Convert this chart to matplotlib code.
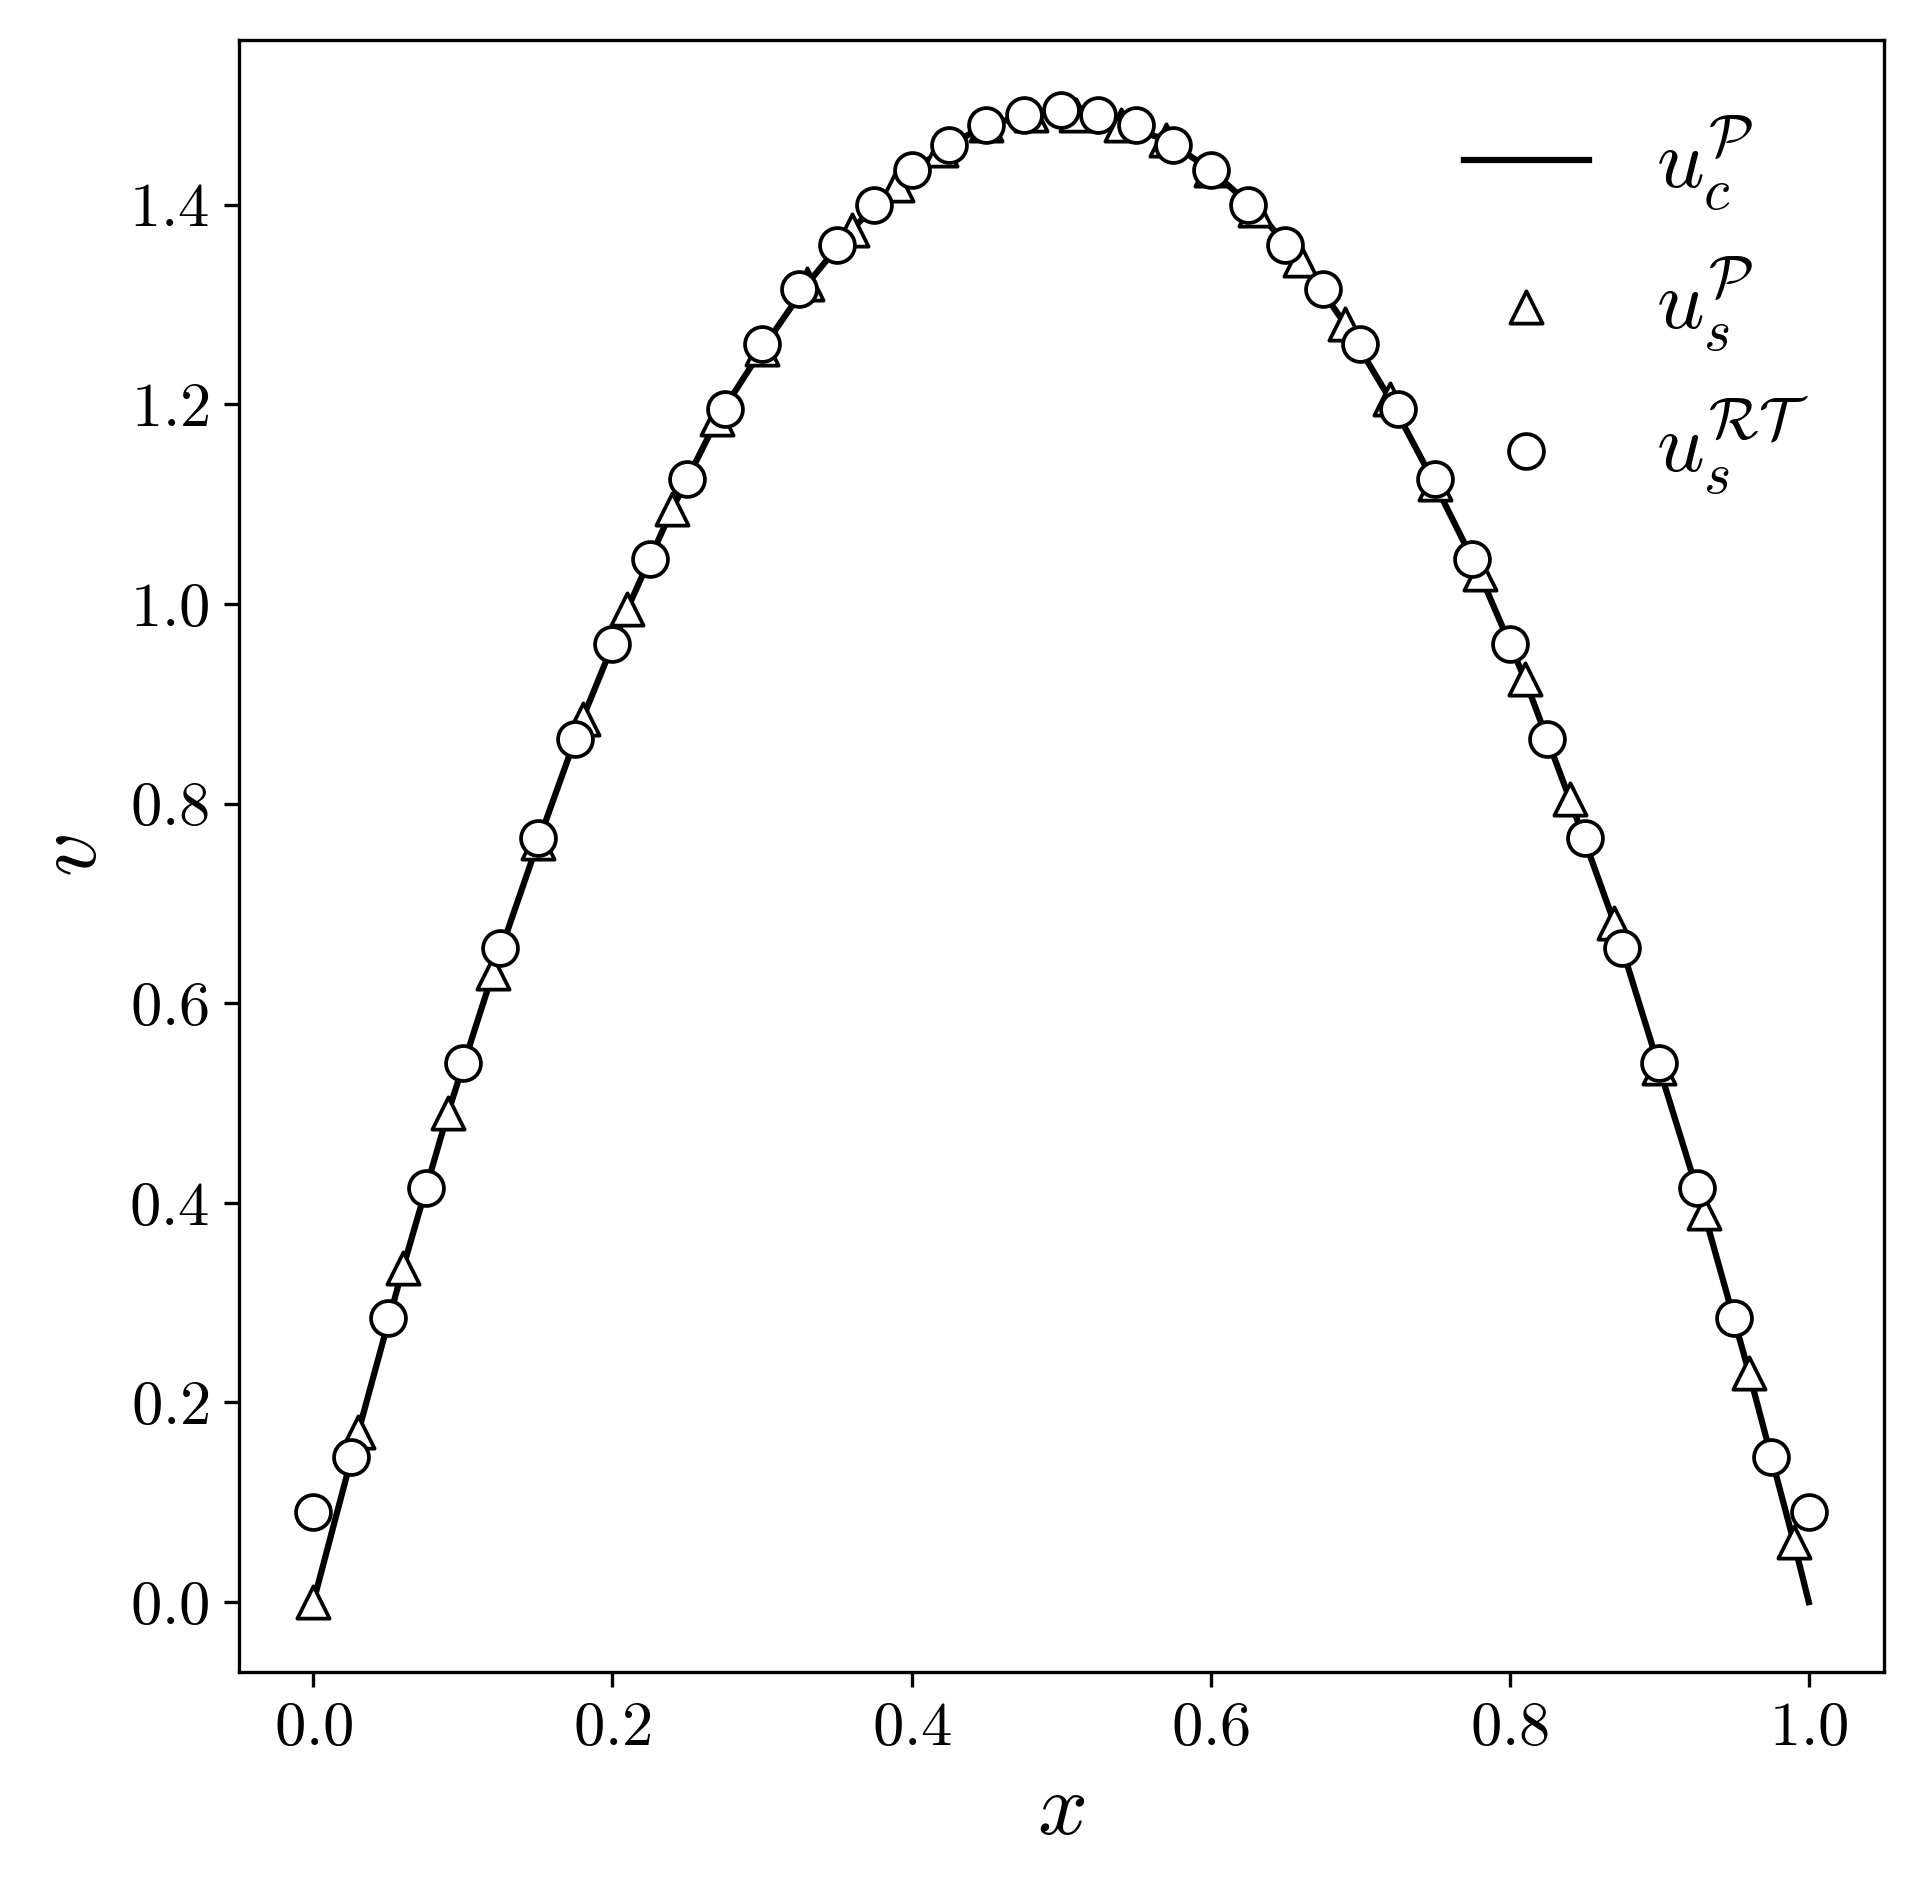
import matplotlib
matplotlib.use("Agg")
import matplotlib.pyplot as plt
import numpy as np

plt.rcParams['mathtext.fontset'] = 'cm'
plt.rcParams['font.family'] = 'serif'
plt.rcParams['font.serif'] = ['cmr10', 'DejaVu Serif']
plt.rcParams['axes.formatter.use_mathtext'] = True

x_tri = [0, 0.03, 0.06, 0.09, 0.12, 0.15, 0.18, 0.21, 0.24, 0.27, 0.30, 0.33, 0.36, 0.39, 0.42, 0.45, 0.48,
         0.51, 0.54, 0.57, 0.60, 0.63, 0.66, 0.69, 0.72, 0.75, 0.78, 0.81, 0.84, 0.87, 0.90, 0.93, 0.96, 0.99]
y_tri = [0, 0.17, 0.335, 0.49, 0.63, 0.76, 0.885, 0.995, 1.095, 1.185, 1.255, 1.32, 1.375, 1.42, 1.455, 1.48, 1.49,
         1.49, 1.48, 1.465, 1.435, 1.395, 1.345, 1.28, 1.205, 1.12, 1.03, 0.925, 0.805, 0.68, 0.535, 0.39, 0.23, 0.06]
x_line = x_tri + [1.0]
y_line = y_tri + [0.0]
x_circ = [i * 0.025 for i in range(41)]
y_circ = [0.09, 0.145, 0.285, 0.415, 0.54, 0.655, 0.765, 0.865, 0.96, 1.045, 1.125, 1.195, 1.26, 1.315, 1.36, 1.40,
          1.435, 1.46, 1.48, 1.49, 1.495, 1.49, 1.48, 1.46, 1.435, 1.40, 1.36, 1.315, 1.26, 1.195, 1.125, 1.045,
          0.96, 0.865, 0.765, 0.655, 0.54, 0.415, 0.285, 0.145, 0.09]

fig = plt.figure(figsize=(1924/300, 1900/300), dpi=300)
ax = fig.add_axes([0.124, 0.12, 0.855, 0.859])
ax.plot(x_line, y_line, color='black', lw=1.5, label=r'$u_c^{\mathcal{P}}$')
ax.scatter(x_tri, y_tri, marker='^', s=60, facecolor='white', edgecolor='black', lw=0.9, zorder=3,
           label=r'$u_s^{\mathcal{P}}$')
ax.scatter(x_circ, y_circ, marker='o', s=70, facecolor='white', edgecolor='black', lw=0.9, zorder=4,
           label=r'$u_s^{\mathcal{RT}}$')
ax.set_xlim(-0.05, 1.05)
ax.set_ylim(-0.07, 1.565)
xt = [0, 0.2, 0.4, 0.6, 0.8, 1.0]
yt = [0, 0.2, 0.4, 0.6, 0.8, 1.0, 1.2, 1.4]
ax.set_xticks(xt)
ax.set_xticklabels([f'${v:.1f}$' for v in xt], fontsize=15)
ax.set_yticks(yt)
ax.set_yticklabels([f'${v:.1f}$' for v in yt], fontsize=15)
ax.set_xlabel(r'$x$', fontsize=21)
ax.set_ylabel(r'$v$', fontsize=21)
ax.legend(frameon=False, fontsize=20, loc='upper right', handlelength=1.5)
fig.savefig('out.png', dpi=300)
